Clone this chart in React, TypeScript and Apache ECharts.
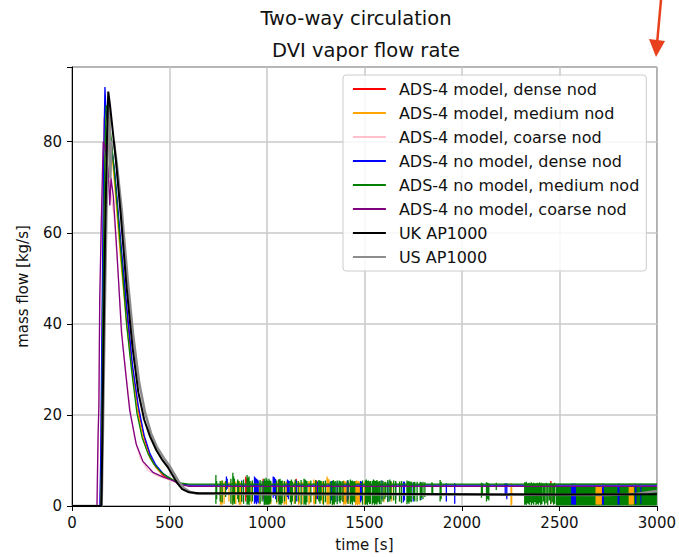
import React, { useEffect, useRef } from "react";
import * as echarts from "echarts";

const FONT = "DejaVu Sans";

const seriesNames = [
  "ADS-4 model, dense nod",
  "ADS-4 model, medium nod",
  "ADS-4 model, coarse nod",
  "ADS-4 no model, dense nod",
  "ADS-4 no model, medium nod",
  "ADS-4 no model, coarse nod",
  "UK AP1000",
  "US AP1000",
];

const xTicks = [0, 500, 1000, 1500, 2000, 2500, 3000];
const yTicks = [0, 20, 40, 60, 80];

// transient part [time s, mass flow kg/s]
const redCurve = [[0,0],[145,0],[150,15],[158,50],[166,85],[172,88],[185,84],[200,80],[220,72],[250,57],[280,43],[310,30],[340,21],[370,15],[400,11],[430,8.5],[470,6.6],[510,5.6],[560,4.8],[600,4.5]];
const orangeCurve = [[0,0],[147,0],[152,12],[160,50],[170,84],[180,86],[200,80],[220,70],[250,54],[280,40],[310,29],[340,20],[370,14],[400,10.5],[440,8],[480,6.6],[520,5.7],[560,4.9],[600,4.5]];
const pinkCurve = [[0,0],[130,0],[134,12],[142,40],[152,64],[162,78],[175,77],[195,70],[215,64],[235,52],[260,36],[290,24],[320,15],[350,10.5],[390,7.8],[440,6.6],[500,5.7],[550,4.9],[600,4.5]];
const blueCurve = [[0,0],[143,0],[147,10],[155,45],[162,75],[169,92],[175,86],[185,84],[200,80],[220,73],[250,58],[280,44],[310,31],[340,22],[370,15.5],[400,11.5],[430,9],[470,7],[510,5.8],[550,5],[600,4.6]];
const greenCurve = [[0,0],[148,0],[151,8],[158,40],[166,70],[175,88],[185,87],[200,81],[220,72],[250,56],[280,40],[305,30],[333,20.4],[360,15],[390,11.5],[420,9.2],[455,7.5],[490,6.4],[520,5.7],[560,5.0],[600,4.8]];
const purpleCurve = [[0,0],[128,0],[130,6],[134,16],[138,22],[142,45],[150,62],[160,80],[170,79],[185,74],[194,66],[200,72],[212,68],[230,56],[254,38],[279,27.7],[296,21],[330,13.5],[364,9.8],[415,7.4],[466,6.4],[517,5.6],[560,4.7],[600,4.3]];
const ukCurve = [[0,0],[150,0],[152,3],[160,30],[170,60],[180,82],[186,91],[195,88],[210,82],[225,76],[250,64],[280,48],[310,35],[340,25],[370,19],[400,15.3],[432,12.3],[460,10.3],[490,8.6],[515,6.8],[540,5],[565,3.7],[600,3.0],[650,2.8],[1000,2.8],[1500,2.7],[2000,2.6],[2500,2.5],[3000,2.6]];
const usCurve = [[0,0],[152,0],[158,15],[170,48],[183,80],[192,88],[197,72],[202,80],[215,80],[230,75],[255,65],[285,50],[315,37],[345,27],[375,20.5],[405,16],[435,13],[470,10.6],[500,8.8],[525,7],[550,5.2],[575,3.9],[605,3.1],[640,2.7],[1000,2.6],[2000,2.5],[2750,2.4],[2900,2.7],[3000,3.3]];

// quasi-steady plateau levels
const redBase = 4.5;
const orangeBase = 4.5;
const pinkBase = 4.5;
const blueBase = 4.6;
const greenBase = 4.8;
const purpleBase = 4.3;

// oscillation spikes [time, low, high]
const redSpikes = [[891,1,6.5],[895,2,6],[980,1.5,6],[1060,1,5.8],[1150,2,6],[1255,1.5,5.6],[1390,1,5.5],[1530,1.2,5.4],[2456,0.5,5.5]];
const orangeSpikes = [[762,0.3,5.5],[766,0.5,5.2],[770,0.3,5.6],[780,0.5,5.3],[805,1,5.2],[822,0.3,5.3],[840,0.4,5.4],[858,0.3,5.5],[862,0.5,5.2],[866,0.3,5],[920,0.5,5.3],[960,0.3,5.3],[1020,0.4,5.3],[1050,0.5,5.2],[1088,0.3,5.5],[1092,0.5,5.2],[1100,0.3,5.4],[1140,0.5,5.4],[1162,0.3,5.5],[1166,0.6,5.2],[1180,0.4,5.3],[1215,0.3,5.5],[1220,0.6,5.3],[1240,0.5,5.8],[1244,0.3,5.4],[1285,0.5,5.4],[1308,0.3,6.5],[1313,0.5,6],[1318,0.3,5.8],[1340,0.4,5.3],[1393,0.3,5.6],[1398,0.5,5.5],[1403,0.3,5.4],[1408,0.6,5.2],[1420,0.5,5.4],[1455,0.2,5.5],[1460,0.4,5.6],[1465,0.2,5.4],[1470,0.5,5.5],[1476,0.3,5.2],[1500,0.4,5.3],[1530,0.6,5.2],[1560,0.8,5.3],[1600,0.8,5.2],[1640,1,5.2],[1680,1,5.2],[2252,0.1,5],[2255,0.3,4.8]];
const pinkSpikes: number[][] = [];
const blueSpikes = [[792,3.5,6.5],[796,3.8,6],[870,1,5.6],[936,0.5,6.5],[941,0.8,6.2],[946,0.4,6],[951,1,5.8],[955,0.6,5.6],[985,1,5.6],[1032,1.8,6.5],[1038,2.2,6.3],[1044,1.5,6],[1075,1.2,5.5],[1105,2,5.8],[1110,1.5,5.6],[1114,2.5,5.5],[1150,1,5.6],[1195,1,5.6],[1200,1.5,5.5],[1260,1.5,5.4],[1330,1.2,5.5],[1360,1,5.4],[1412,1,5.6],[1416,1.4,5.4],[1440,1.5,5.4],[1480,0.8,5.5],[1485,1.2,5.3],[1550,1.2,5.3],[1590,1.5,5.6],[1620,1,5.4],[1660,1.5,5.3],[1700,0.8,5.4],[1705,1.2,5.3],[1750,1,5.2],[1790,1.3,5.2],[1920,1,5],[1963,0.5,5],[2222,2.4,5],[2230,1.5,5]];
const greenSpikes = [[738,0.5,6.8],[742,1.5,5.5],[760,1,5.5],[770,0.8,5.6],[788,2.0,5.5],[815,0.5,6],[825,0.3,7.3],[829,1,6.5],[833,0.5,6],[850,1.5,5.8],[855,0.8,5.5],[870,1,5.5],[880,0.5,5.8],[898,0.3,6.8],[903,0.5,6.2],[908,0.2,6.5],[913,1,5.5],[925,1,5.6],[965,0.5,5.7],[975,1,5.5],[986,0.3,6],[990,0.2,5.5],[995,0.5,6.2],[1000,0.2,5.8],[1005,0.4,5.5],[1010,0.3,6],[1015,0.5,5.6],[1019,0.8,5.5],[1050,0.8,5.6],[1062,0.3,5.8],[1067,0.5,6],[1072,0.2,5.5],[1078,0.6,5.6],[1090,1,5.5],[1120,0.8,5.5],[1125,0.3,5.8],[1130,1,5.4],[1145,0.5,5.8],[1160,1,5.5],[1175,0.3,5.7],[1190,0.3,6],[1195,0.5,5.8],[1200,0.2,5.6],[1205,0.8,5.5],[1225,0.8,5.6],[1250,0.5,5.7],[1266,1,5.7],[1272,0.5,5.6],[1278,1.2,5.5],[1290,0.3,5.5],[1300,0.8,5.6],[1325,0.5,5.4],[1335,0.2,5.5],[1340,0.5,5.7],[1345,0.3,5.4],[1350,0.8,5.5],[1360,0.4,5.6],[1370,1,5.6],[1375,0.6,5.5],[1380,1.2,5.4],[1390,0.9,5.5],[1415,0.5,5.7],[1428,0.4,5.8],[1433,0.8,5.5],[1438,0.3,5.6],[1443,1,5.4],[1450,0.8,5.5],[1490,0.3,5.6],[1505,0.3,5.6],[1510,0.5,5.8],[1515,0.2,5.5],[1520,0.8,5.6],[1526,0.4,5.4],[1530,0.5,5.5],[1540,0.3,5.5],[1546,0.6,5.8],[1552,0.2,5.6],[1558,0.5,5.5],[1564,0.3,5.7],[1570,0.8,5.4],[1577,0.4,5.5],[1585,0.4,5.6],[1595,1,5.5],[1605,1.5,5.3],[1610,2,5.2],[1620,0.8,5.7],[1630,1,5.8],[1636,1.5,5.5],[1650,1.2,5.6],[1660,0.5,5.5],[1680,1,5.4],[1690,0.6,5.5],[1718,0.4,5.6],[1723,0.8,5.4],[1728,0.5,5.5],[1733,1,5.3],[1740,0.8,5.4],[1752,1.5,5.2],[1758,1,5.3],[1770,1,5.3],[1786,1.2,5.3],[1792,1.8,5.1],[1800,1.5,5.3],[1810,2,5.2],[1846,2.4,5.2],[1850,2.8,5],[1888,1,5.7],[1893,1.5,5.3],[2100,1.8,5.1],[2105,2.2,5],[2126,1,5.2],[2132,1.5,5.1],[2138,1.2,5],[2176,3.5,5.1],[2322,0.3,5.2],[2326,0.5,5.1],[2330,0.2,5.3],[2334,0.6,5],[2340,0.5,5],[2345,0.3,5.1],[2350,0.8,5],[2356,0.2,5.2],[2362,0.6,5],[2368,0.3,5.1],[2374,0.9,5],[2380,0.2,5],[2386,0.5,5.1],[2392,0.3,5],[2398,0.7,5.2],[2404,0.2,5],[2410,0.4,5.1],[2418,1,5],[2424,0.3,5],[2432,0.6,5.1],[2440,0.2,5],[2448,1.2,5],[2455,0.4,5.1],[2463,0.8,5],[2470,0.3,5],[2476,0.5,5.1]];
const purpleSpikes: number[][] = [];

// dense oscillation bands [tStart, tEnd, low, high]
const greenBands = [[2482,3000,0.1,4.9]];
const orangeBands = [[2685,2720,0.3,4.9],[2855,2882,0.3,4.9]];
const blueBands = [[2560,2585,0.3,4.9],[2718,2728,0.3,4.9],[2798,2808,0.3,4.9],[2888,2895,0.5,4.9],[2915,2920,0.5,4.9]];

function build(curve: number[][], base: number, spikes: number[][]) {
  const d: number[][] = curve.map((p) => [p[0], p[1]]);
  const s = [...spikes].sort((a, b) => a[0] - b[0]);
  for (const [t, lo, hi] of s) {
    d.push([t, base], [t, hi], [t, lo], [t, base]);
  }
  d.push([3000, base]);
  return d;
}

function bandSeries(name: string, data: number[][], color: string) {
  return {
    type: "custom",
    name,
    silent: true,
    encode: { x: [0, 1], y: [2, 3] },
    data,
    renderItem: (_p: any, api: any) => {
      const a = api.coord([api.value(0), api.value(3)]);
      const b = api.coord([api.value(1), api.value(2)]);
      return {
        type: "rect",
        shape: { x: a[0], y: a[1], width: b[0] - a[0], height: b[1] - a[1] },
        style: { fill: color },
      };
    },
  };
}

function lineSeries(name: string, data: number[][], color: string, width: number) {
  return {
    type: "line",
    name,
    data,
    symbol: "none",
    showSymbol: false,
    lineStyle: { color, width },
    itemStyle: { color },
  };
}

export default function App() {
  const ref = useRef<HTMLDivElement>(null);
  useEffect(() => {
    if (!ref.current) return;
    const chart = echarts.init(ref.current, null, { renderer: "svg" });
    const option: any = {
      animation: false,
      backgroundColor: "#ffffff",
      textStyle: { fontFamily: FONT },
      grid: {
        left: 72, top: 67, width: 588, height: 439,
        show: true, borderColor: "#000", borderWidth: 1, backgroundColor: "transparent",
      },
      xAxis: {
        type: "value", min: xTicks[0], max: xTicks[xTicks.length - 1], interval: 500,
        name: "time [s]", nameLocation: "middle", nameGap: 31,
        nameTextStyle: { fontFamily: FONT, fontSize: 15, color: "#111" },
        axisLine: { show: true, lineStyle: { color: "#000", width: 1 } },
        axisTick: { show: true, inside: false, length: 5, lineStyle: { color: "#000" } },
        axisLabel: { fontFamily: FONT, fontSize: 15, color: "#111", margin: 9, formatter: (v: number) => String(v) },
        splitLine: { show: true, lineStyle: { color: "#c8c8c8", width: 1.5 } },
      },
      yAxis: {
        type: "value", min: 0, max: 96.4, interval: 20,
        name: "mass flow [kg/s]", nameLocation: "middle", nameGap: 42, nameRotate: 90,
        nameTextStyle: { fontFamily: FONT, fontSize: 15, color: "#111" },
        axisLine: { show: true, lineStyle: { color: "#000", width: 1 } },
        axisTick: { show: true, inside: false, length: 5, lineStyle: { color: "#000" } },
        axisLabel: {
          fontFamily: FONT, fontSize: 15, color: "#111", margin: 10,
          formatter: (v: number) => (yTicks.includes(v) ? String(v) : ""),
        },
        splitLine: { show: true, lineStyle: { color: "#c8c8c8", width: 1.5 } },
      },
      legend: {
        orient: "vertical", left: 343, top: 75,
        data: seriesNames,
        itemWidth: 33, itemHeight: 14, itemGap: 8,
        padding: [6, 7, 6, 9],
        backgroundColor: "rgba(255,255,255,0.85)",
        borderColor: "#cccccc", borderWidth: 1, borderRadius: 3,
        itemStyle: { opacity: 0 },
        lineStyle: { width: 1.8 },
        textStyle: { fontFamily: FONT, fontSize: 16, color: "#111", lineHeight: 14, height: 14, padding: [0, 0, 0, 8] },
      },
      graphic: [
        { type: "text", x: 356, y: 18, style: { text: "Two-way circulation", fontFamily: FONT, fontSize: 19.5, fill: "#111", textAlign: "center", textVerticalAlign: "middle" } },
        { type: "text", x: 366, y: 50, style: { text: "DVI vapor flow rate", fontFamily: FONT, fontSize: 19.5, fill: "#111", textAlign: "center", textVerticalAlign: "middle" } },
        { type: "line", shape: { x1: 661, y1: 0, x2: 657, y2: 44 }, style: { stroke: "#e8401c", lineWidth: 2.5 } },
        { type: "polygon", shape: { points: [[649, 39], [665, 41], [656, 57]] }, style: { fill: "#e8401c" } },
      ],
      series: [
        lineSeries(seriesNames[0], build(redCurve, redBase, redSpikes), "#ff0000", 1.3),
        lineSeries(seriesNames[1], build(orangeCurve, orangeBase, orangeSpikes), "#ffa500", 1.3),
        lineSeries(seriesNames[2], build(pinkCurve, pinkBase, pinkSpikes), "#ffc0cb", 1.3),
        lineSeries(seriesNames[3], build(blueCurve, blueBase, blueSpikes), "#0000ff", 1.3),
        lineSeries(seriesNames[4], build(greenCurve, greenBase, greenSpikes), "#008000", 1.3),
        bandSeries("green band", greenBands, "#008000"),
        bandSeries("orange band", orangeBands, "#ffa500"),
        bandSeries("blue band", blueBands, "#0000ff"),
        lineSeries(seriesNames[5], build(purpleCurve, purpleBase, purpleSpikes), "#800080", 1.3),
        lineSeries(seriesNames[7], usCurve, "#8c8c8c", 2.5),
        lineSeries(seriesNames[6], ukCurve, "#000000", 2),
      ],
    };
    chart.setOption(option);
    return () => chart.dispose();
  }, []);
  return (
    <div
      ref={ref}
      style={{ position: "fixed", left: 0, top: 0, width: 679, height: 557, background: "#fff" }}
    />
  );
}
